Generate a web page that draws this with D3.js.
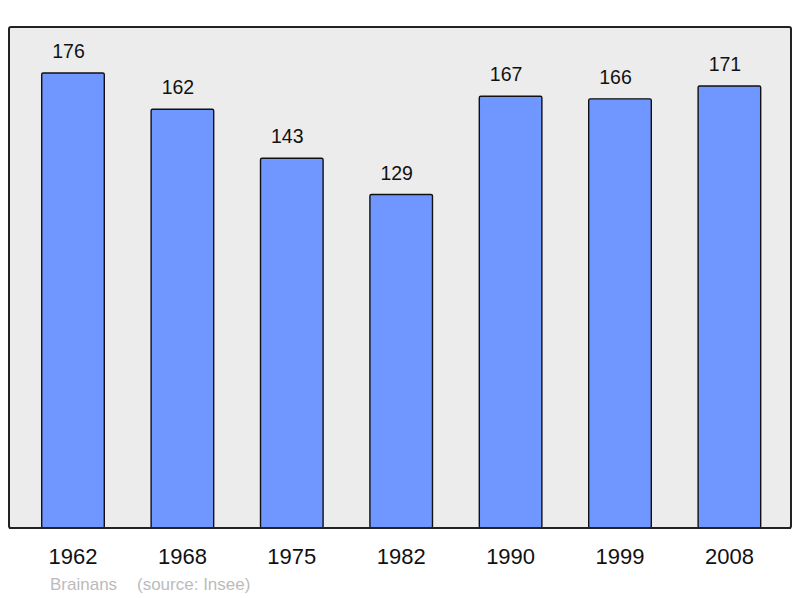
<!DOCTYPE html>
<html><head><meta charset="utf-8">
<script src="https://cdn.jsdelivr.net/npm/d3@7"></script>
<style>body{margin:0;background:#fff}svg{display:block}</style>
</head><body>
<svg id="c" width="800" height="598"></svg>
<script>
const years = ["1962","1968","1975","1982","1990","1999","2008"];
const population = [176,162,143,129,167,166,171];
const footerLeft = "Brainans";
const footerRight = "(source: Insee)";

const svg = d3.select("#c");
const font = "Liberation Sans, Arial, sans-serif";

// frame
svg.append("rect").attr("x",9).attr("y",27).attr("width",782).attr("height",501)
  .attr("rx",2).attr("fill","#ececec").attr("stroke","#222").attr("stroke-width",2);

const x = d3.scaleBand().domain(years).range([18.3, 784.1]).paddingInner(0.428).paddingOuter(0.214);
const y = d3.scaleLinear().domain([0,176]).range([528,73]);

svg.selectAll("rect.bar").data(years).enter().append("rect")
  .attr("class","bar")
  .attr("x",d=>x(d)).attr("width",x.bandwidth())
  .attr("y",(d,i)=>y(population[i])).attr("height",(d,i)=>y(0)-y(population[i]))
  .attr("rx",1.5)
  .attr("fill","#7097ff").attr("stroke","#111").attr("stroke-width",1.4);

// redraw frame bottom line over bars
svg.append("line").attr("x1",9).attr("x2",791).attr("y1",528).attr("y2",528)
  .attr("stroke","#222").attr("stroke-width",2);

svg.selectAll("text.val").data(years).enter().append("text")
  .attr("class","val")
  .attr("x",d=>x(d)+x.bandwidth()/2-4.5).attr("y",(d,i)=>y(population[i])-15)
  .attr("text-anchor","middle").attr("font-family",font).attr("font-size",19.5).attr("fill","#111")
  .text((d,i)=>population[i]);

const xAxis = d3.axisBottom(x).tickSize(0).tickPadding(0);
const ax = svg.append("g").attr("transform","translate(0,528)").call(xAxis);
ax.select(".domain").remove();
ax.selectAll("text").attr("font-family",font).attr("font-size",22).attr("fill","#111")
  .attr("dy",null).attr("y",36);

svg.append("text").attr("x",50).attr("y",590).attr("font-family",font).attr("font-size",17)
  .attr("fill","#bbb").text(footerLeft);
svg.append("text").attr("x",137).attr("y",590).attr("font-family",font).attr("font-size",17)
  .attr("fill","#bbb").text(footerRight);
</script>
</body></html>
